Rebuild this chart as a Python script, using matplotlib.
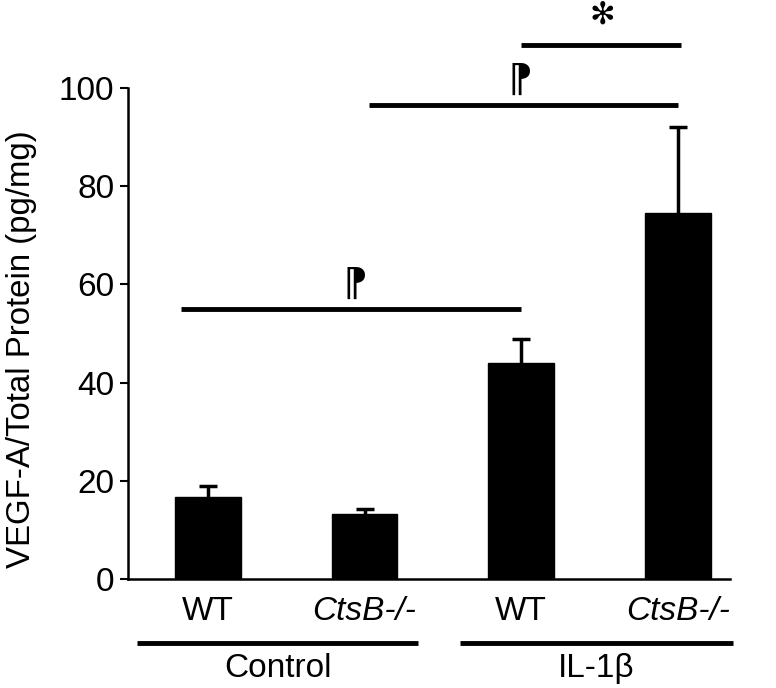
import matplotlib
matplotlib.use("Agg")
import matplotlib.pyplot as plt

plt.rcParams['font.family'] = ['Liberation Sans', 'DejaVu Sans']

genotypes = ["WT", "CtsB-/-", "WT", "CtsB-/-"]
italic = [False, True, False, True]
treatments = ["Control", "IL-1β"]
values = [16.7, 13.2, 44.0, 74.5]
errors = [2.2, 1.0, 4.9, 17.6]
yticks = [0, 20, 40, 60, 80, 100]
# significance brackets: (x_start, x_end, y, symbol, symbol_x)
sig_lines = [(-0.17, 2.0, 55.0, "⁋", 0.94), (1.03, 3.0, 96.5, "⁋", 1.99),
             (2.0, 3.02, 108.8, "✻", 2.52)]

fig = plt.figure(figsize=(7.76, 6.88), dpi=100)
ax = fig.add_axes([0.165, 0.1584, 0.776, 0.7136])
x = list(range(len(values)))
ax.bar(x, values, width=0.42, color="black", edgecolor="black", zorder=2)
ax.errorbar(x, values, yerr=[[0] * len(errors), errors], fmt="none", ecolor="black",
            elinewidth=2.5, capsize=0, zorder=1)
tops = [v + e for v, e in zip(values, errors)]
ax.plot(x, tops, linestyle="none", marker="_", markersize=13, markeredgewidth=2.5,
        color="black", zorder=1)

ax.set_xlim(-0.51, 3.335)
ax.set_ylim(0, 100)
ax.set_yticks(yticks)
ax.set_yticklabels([str(t) for t in yticks], fontsize=24)
ax.tick_params(axis="y", length=6, width=1.5, direction="out", pad=4)
ax.set_xticks([])
ax.spines["top"].set_visible(False)
ax.spines["right"].set_visible(False)
ax.spines["left"].set_linewidth(1.8)
ax.spines["bottom"].set_linewidth(1.8)
ax.set_ylabel("VEGF-A/Total Protein (pg/mg)", fontsize=23.8, va="center")
ax.yaxis.set_label_coords(-0.177, 0.468)

# genotype labels
for xi, g, it in zip(x, genotypes, italic):
    ax.text(xi, -6.7, g, ha="center", va="center", fontsize=24,
            style="italic" if it else "normal", clip_on=False)

# group lines and labels
groups = [(-0.45, 1.34, treatments[0]), (1.61, 3.35, treatments[1])]
for x0, x1, lab in groups:
    ax.plot([x0, x1], [-13.0, -13.0], color="black", lw=3.5, clip_on=False,
            solid_capstyle="butt")
    ax.text((x0 + x1) / 2, -18.2, lab, ha="center", va="center", fontsize=24,
            clip_on=False)

# significance brackets
for x0, x1, y, sym, sx in sig_lines:
    ax.plot([x0, x1], [y, y], color="black", lw=3.5, clip_on=False,
            solid_capstyle="butt")
    if sym == "✻":
        ax.text(sx, y + 6.0, sym, ha="center", va="center", fontsize=22,
                fontfamily="DejaVu Sans", clip_on=False)
    else:
        ax.text(sx, y + 1.0, sym, ha="center", va="bottom", fontsize=28,
                fontfamily="DejaVu Sans", clip_on=False)

fig.savefig("out.png", dpi=100)
